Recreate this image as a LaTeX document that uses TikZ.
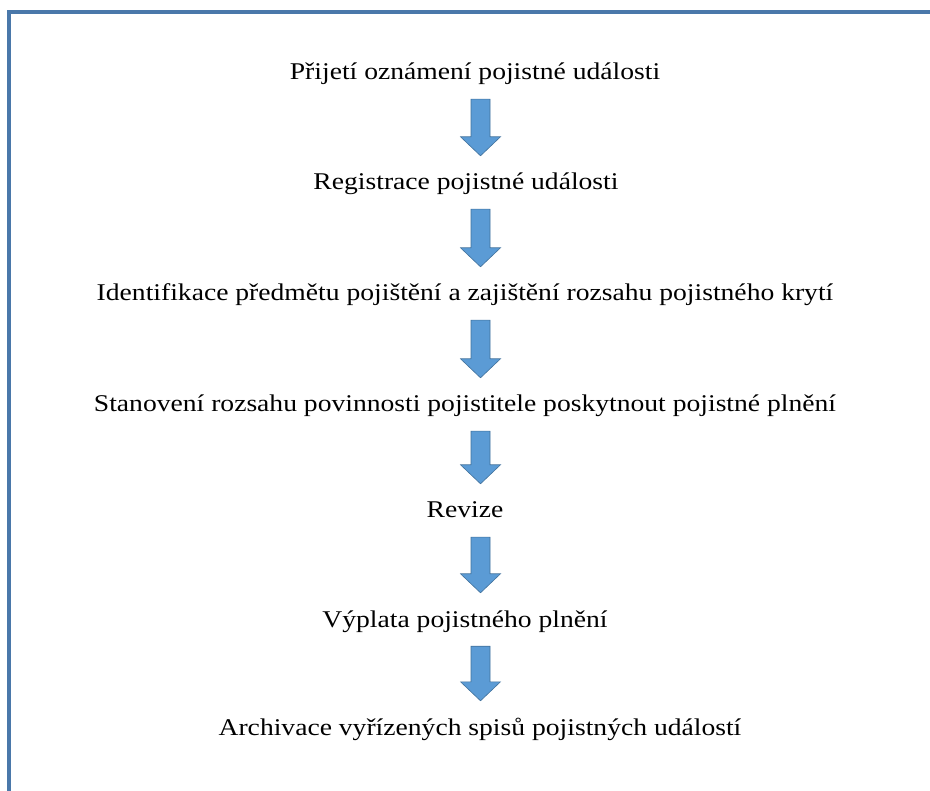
\documentclass[tikz,border=0pt]{standalone}
\usepackage{fontspec}
\setmainfont{Liberation Serif}[FakeStretch=1.15]
\usetikzlibrary{calc}
\definecolor{framecol}{RGB}{74,120,170}
\definecolor{arrowfill}{RGB}{91,155,213}
\definecolor{arrowline}{RGB}{65,113,156}
\tikzset{
  stepnode/.style={inner sep=0pt,font=\fontsize{24}{28}\selectfont,text height=17pt,text depth=6pt,anchor=base},
  blockarrow/.style={fill=arrowfill,draw=arrowline,line width=0.6pt,line join=miter}
}
% block arrow from #1 (top) to #2 (tip)
\newcommand{\blockarrow}[2]{%
  \draw[blockarrow] ($(#1)+(-9.5,0)$) -- ($(#2)+(-9.5,-19)$) -- ($(#2)+(-20,-19)$) -- (#2)
    -- ($(#2)+(20,-19)$) -- ($(#2)+(9.5,-19)$) -- ($(#1)+(9.5,0)$) -- cycle;}
\begin{document}
\begin{tikzpicture}[x=1pt,y=-1pt]
        \useasboundingbox (0,0) rectangle (930,791);
        \draw[framecol,line width=4pt] (9.3,795) -- (9.3,11.7) -- (935,11.7);

        \node[stepnode] (s1) at (475,80) {Přijetí oznámení pojistné události};
        \node[stepnode] (s2) at (466,190) {Registrace pojistné události};
        \node[stepnode] (s3) at (465,301) {Identifikace předmětu pojištění a zajištění rozsahu pojistného krytí};
        \node[stepnode] (s4) at (465,412) {Stanovení rozsahu povinnosti pojistitele poskytnout pojistné plnění};
        \node[stepnode] (s5) at (465,518) {Revize};
        \node[stepnode] (s6) at (465,627) {Výplata pojistného plnění};
        \node[stepnode] (s7) at (480,735) {Archivace vyřízených spisů pojistných událostí};

        \coordinate (ax) at (480.5,0);
        \foreach \a/\b in {s1/s2,s2/s3,s3/s4,s4/s5,s5/s6,s6/s7}{
          \coordinate (top) at ($(\a.south -| ax)+(0,13)$);
          \coordinate (tip) at ($(\b.north -| ax)+(0,-17)$);
          \blockarrow{top}{tip}
        }
    \end{tikzpicture}
\end{document}
